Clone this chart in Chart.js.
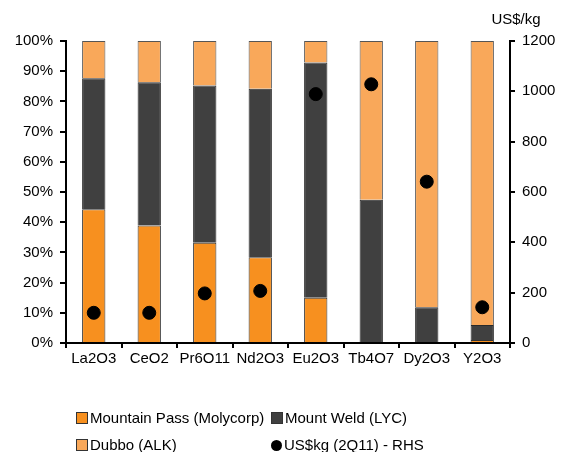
<!DOCTYPE html>
<html>
<head>
<meta charset="utf-8">
<script src="https://cdn.jsdelivr.net/npm/chart.js@4.4.0/dist/chart.umd.min.js"></script>
<style>
  html, body { margin: 0; padding: 0; background: #fff; }
  #wrap { position: relative; width: 567px; height: 452px; font-family: "Liberation Sans", Arial, sans-serif; }
  #c { position: absolute; left: 0; top: 0; }
  .lg { position: absolute; font-size: 15px; color: #000; line-height: 17px; white-space: nowrap; }
  .lg .box { display: inline-block; width: 10px; height: 10px; border: 1px solid #333; vertical-align: -1px; margin-right: 2px; box-sizing: content-box; }
  .lg .dot { display: inline-block; width: 11px; height: 11px; border-radius: 50%; background: #000; vertical-align: -1px; margin-right: 2px; }
</style>
</head>
<body>
<div id="wrap">
  <canvas id="c" width="567" height="452"></canvas>
  <div class="lg" style="left:76px; top:409px;"><span class="box" style="background:#F7901F"></span>Mountain Pass (Molycorp)</div>
  <div class="lg" style="left:271px; top:409px;"><span class="box" style="background:#404040"></span>Mount Weld (LYC)</div>
  <div class="lg" style="left:76px; top:436px;"><span class="box" style="background:#F9A85A"></span>Dubbo (ALK)</div>
  <div class="lg" style="left:271px; top:436px;"><span class="dot"></span>US$kg (2Q11) - RHS</div>
</div>
<script>
// Rare earth oxides
const categories = ['La2O3', 'CeO2', 'Pr6O11', 'Nd2O3', 'Eu2O3', 'Tb4O7', 'Dy2O3', 'Y2O3'];

// Share of supply by project (%)
const mountainPass = [44.3, 38.9, 33.2, 28.4, 15.0, 0, 0, 1.0];
const mountWeld    = [43.4, 47.4, 52.1, 55.8, 77.9, 47.4, 11.8, 5.0];
const dubbo        = [12.3, 13.7, 14.7, 15.8, 7.1, 52.6, 88.2, 94.0];

// Price, US$/kg (2Q11)
const priceUsdKg   = [120, 120, 197, 207, 989, 1028, 641, 142];

const leftTicks  = [0, 10, 20, 30, 40, 50, 60, 70, 80, 90, 100];
const rightTicks = [0, 200, 400, 600, 800, 1000, 1200];

const FONT = { family: '"Liberation Sans", Arial, sans-serif', size: 15 };

const rightTitle = {
  id: 'rightTitle',
  afterDraw(chart) {
    const ctx = chart.ctx;
    const s = chart.scales.y1;
    ctx.save();
    ctx.font = '15px "Liberation Sans", Arial, sans-serif';
    ctx.fillStyle = '#000';
    ctx.textAlign = 'center';
    ctx.textBaseline = 'middle';
    ctx.fillText('US$/kg', s.left + 6, chart.chartArea.top - 21);
    ctx.restore();
  }
};

new Chart(document.getElementById('c'), {
  type: 'bar',
  data: {
    labels: categories,
    datasets: [
      { type: 'line', label: 'US$kg (2Q11) - RHS', data: priceUsdKg, yAxisID: 'y1',
        showLine: false, pointRadius: 6.5, pointHoverRadius: 6.5,
        pointBackgroundColor: '#000', pointBorderColor: '#000', order: 0 },
      { label: 'Mountain Pass (Molycorp)', data: mountainPass, backgroundColor: '#F7901F',
        borderColor: '#333', borderWidth: 1, yAxisID: 'y', order: 1 },
      { label: 'Mount Weld (LYC)', data: mountWeld, backgroundColor: '#404040',
        borderColor: '#2a2a2a', borderWidth: 1, yAxisID: 'y', order: 1 },
      { label: 'Dubbo (ALK)', data: dubbo, backgroundColor: '#F9A85A',
        borderColor: '#555', borderWidth: 1, yAxisID: 'y', order: 1 }
    ]
  },
  options: {
    responsive: false,
    animation: false,
    events: [],
    layout: { padding: { top: 41, left: 0, right: 0, bottom: 0 } },
    datasets: { bar: { barPercentage: 0.42, categoryPercentage: 1 } },
    plugins: { legend: { display: false }, tooltip: { enabled: false } },
    scales: {
      x: {
        stacked: true,
        offset: true,
        grid: { display: true, drawOnChartArea: false, drawTicks: true, tickLength: 5, offset: true, color: '#000', lineWidth: 2 },
        border: { display: true, color: '#000', width: 2 },
        ticks: { color: '#000', font: FONT, padding: 2, maxRotation: 0, autoSkip: false },
        afterFit(s) { s.height = 109; }
      },
      y: {
        stacked: true,
        position: 'left',
        min: 0, max: 100,
        afterBuildTicks(s) { s.ticks = leftTicks.map(v => ({ value: v })); },
        grid: { display: true, drawOnChartArea: false, drawTicks: true, tickLength: 6, color: '#000', lineWidth: 2 },
        border: { display: true, color: '#000', width: 2 },
        ticks: { color: '#000', font: FONT, padding: 7, callback: v => v + '%' },
        afterFit(s) { s.width = 66; }
      },
      y1: {
        stacked: false,
        position: 'right',
        min: 0, max: 1200,
        afterBuildTicks(s) { s.ticks = rightTicks.map(v => ({ value: v })); },
        grid: { display: true, drawOnChartArea: false, drawTicks: true, tickLength: 5, color: '#000', lineWidth: 2 },
        border: { display: true, color: '#000', width: 2 },
        ticks: { color: '#000', font: FONT, padding: 7, callback: v => String(v) },
        afterFit(s) { s.width = 57; }
      }
    }
  },
  plugins: [rightTitle]
});
</script>
</body>
</html>
